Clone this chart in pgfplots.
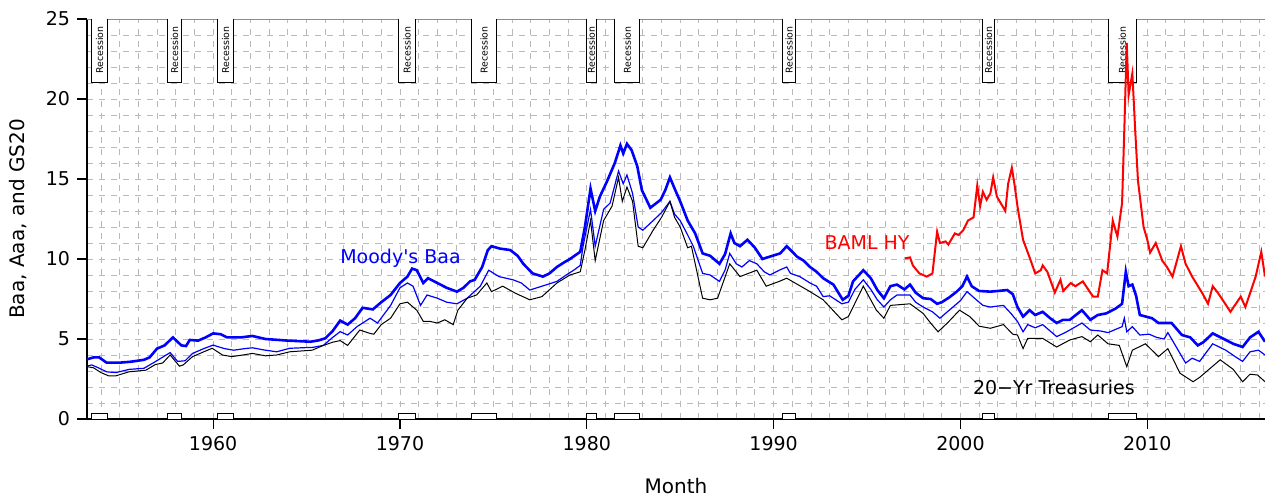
\documentclass[border=0pt]{standalone}
\usepackage{fontspec}
\setmainfont{DejaVu Sans}
\usepackage{pgfplots}
\pgfplotsset{compat=1.18}
\newcommand{\rec}[3]{%
  \addplot[draw=black, fill=white, line width=0.5pt] coordinates {(#1,25) (#1,21) (#2,21) (#2,25)};
  \addplot[draw=black, fill=white, line width=0.5pt] coordinates {(#1,0) (#1,0.36) (#2,0.36) (#2,0)};
  \node[rotate=90, font=\fontsize{4.7}{5}\selectfont, inner sep=0pt] at (axis cs:#3,23.06) {Recession};
}
\begin{document}
\begin{tikzpicture}
\begin{axis}[
  scale only axis, width=589pt, height=200pt,
  xmin=1953.25, xmax=2016.3, ymin=0, ymax=25,
  axis x line*=bottom, axis y line*=left,
  axis line style={line width=0.6pt, -},
  xtick={1960,1970,...,2010}, ytick={0,5,...,25},
  minor xtick={1954,...,2016}, minor ytick={1,...,24},
  grid=both,
  major grid style={black!27, dashed, line width=0.4pt},
  minor grid style={black!27, dashed, line width=0.4pt},
  tick align=outside, major tick length=5pt, minor tick length=0pt,
  tick style={black, line width=0.6pt},
  /pgf/number format/1000 sep={},
  /pgf/number format/assume math mode=true,
  tick label style={font=\fontsize{9.5}{11}\selectfont},
  label style={font=\fontsize{9.5}{11}\selectfont},
  xlabel={Month}, ylabel={Baa, Aaa, and GS20},
  every axis x label/.style={at={(rel axis cs:0.5,0)}, yshift=-33.5pt, anchor=center},
  every axis y label/.style={at={(rel axis cs:0,0.5)}, xshift=-34.5pt, rotate=90, anchor=center},
]
\draw[black!45, line width=0.4pt] (rel axis cs:0,1) -- (rel axis cs:1,1);
\coordinate (sw) at (rel axis cs:0,0);
\coordinate (ne) at (rel axis cs:1,1);

\rec{1953.50}{1954.33}{1953.92}
\rec{1957.58}{1958.29}{1957.94}
\rec{1960.25}{1961.08}{1960.67}
\rec{1969.92}{1970.83}{1970.38}
\rec{1973.83}{1975.17}{1974.50}
\rec{1980.00}{1980.50}{1980.25}
\rec{1981.50}{1982.83}{1982.17}
\rec{1990.50}{1991.17}{1990.83}
\rec{2001.17}{2001.83}{2001.50}
\rec{2007.92}{2009.42}{2008.67}

% BAML HY
\addplot[red, line width=1pt] coordinates {
(1997.04,10.04) (1997.3,10.1) (1997.45,9.6) (1997.8,9.1) (1998.2,8.9) (1998.5,9.1)
(1998.75,11.7) (1998.9,11.0) (1999.2,11.1) (1999.35,10.9) (1999.7,11.6) (1999.9,11.5)
(2000.15,11.8) (2000.4,12.4) (2000.7,12.6) (2000.9,14.6) (2001.05,13.3) (2001.2,14.2)
(2001.4,13.7) (2001.6,14.1) (2001.75,15.1) (2001.95,13.9) (2002.4,13.0) (2002.55,14.7)
(2002.75,15.7) (2002.9,14.6) (2003.05,13.3) (2003.35,11.2) (2003.7,10.1) (2004.0,9.1)
(2004.3,9.3) (2004.4,9.6) (2004.65,9.2) (2005.05,7.9) (2005.35,8.7) (2005.5,8.0)
(2005.9,8.5) (2006.15,8.3) (2006.55,8.6) (2006.95,7.9) (2007.1,7.65) (2007.35,7.65)
(2007.6,9.3) (2007.85,9.1) (2008.15,12.4) (2008.4,11.4) (2008.65,13.5) (2008.77,18.1)
(2008.9,23.5) (2009.0,20.25) (2009.2,21.6) (2009.35,18.1) (2009.5,14.9) (2009.8,12.0)
(2010.0,11.2) (2010.15,10.4) (2010.45,11.0) (2010.8,9.9) (2011.05,9.5) (2011.35,8.9)
(2011.8,10.8) (2012.05,9.7) (2012.4,8.9) (2012.95,7.85) (2013.25,7.2) (2013.5,8.3)
(2013.8,7.85) (2014.45,6.7) (2015.0,7.65) (2015.25,7.0) (2015.8,8.9) (2016.1,10.45)
(2016.3,8.9)
};

% Moody's Baa
\addplot[blue, line width=1.3pt] coordinates {
(1953.25,3.73) (1953.6,3.85) (1953.9,3.85) (1954.3,3.52) (1955.0,3.52) (1955.6,3.58)
(1956.3,3.7) (1956.6,3.85) (1957.0,4.4) (1957.4,4.6) (1957.85,5.1) (1958.3,4.6)
(1958.55,4.56) (1958.75,4.94) (1959.2,4.9) (1959.6,5.1) (1960.0,5.35) (1960.4,5.3)
(1960.75,5.1) (1961.5,5.1) (1962.1,5.19) (1962.8,5.0) (1963.4,4.95) (1964.0,4.9)
(1965.2,4.83) (1965.6,4.9) (1966.0,5.04) (1966.4,5.5) (1966.8,6.15) (1967.2,5.9)
(1967.6,6.3) (1968.0,6.95) (1968.55,6.85) (1969.0,7.3) (1969.5,7.75) (1970.0,8.5)
(1970.4,8.9) (1970.65,9.4) (1970.9,9.3) (1971.25,8.5) (1971.5,8.8) (1972.0,8.5)
(1972.5,8.2) (1973.05,7.96) (1973.4,8.2) (1973.75,8.6) (1974.0,8.7) (1974.4,9.5)
(1974.7,10.55) (1974.9,10.8) (1975.35,10.65) (1975.9,10.56) (1976.3,10.2) (1976.6,9.7)
(1977.1,9.1) (1977.65,8.9) (1978.0,9.1) (1978.4,9.5) (1978.8,9.8) (1979.1,10.0)
(1979.65,10.45) (1979.9,12.0) (1980.2,14.4) (1980.45,13.0) (1980.7,13.9) (1981.1,14.9)
(1981.5,16.0) (1981.8,17.1) (1981.95,16.6) (1982.15,17.2) (1982.4,16.8) (1982.7,15.8)
(1982.95,14.3) (1983.4,13.2) (1983.95,13.7) (1984.2,14.3) (1984.45,15.1) (1984.7,14.4)
(1985.0,13.6) (1985.4,12.4) (1985.8,11.6) (1986.2,10.35) (1986.6,10.2) (1987.1,9.7)
(1987.4,10.3) (1987.7,11.6) (1987.9,11.0) (1988.2,10.8) (1988.6,11.2) (1989.0,10.7)
(1989.4,10.0) (1989.8,10.15) (1990.35,10.35) (1990.7,10.8) (1991.25,10.15) (1991.6,9.9)
(1991.95,9.5) (1992.3,9.2) (1992.65,8.8) (1993.2,8.4) (1993.7,7.45) (1994.0,7.7)
(1994.25,8.6) (1994.8,9.3) (1995.2,8.8) (1995.55,8.06) (1995.9,7.55) (1996.25,8.3)
(1996.6,8.4) (1997.0,8.1) (1997.3,8.4) (1997.6,7.9) (1998.0,7.55) (1998.4,7.5)
(1998.75,7.2) (1999.0,7.3) (1999.4,7.6) (1999.8,7.96) (2000.1,8.3) (2000.35,8.9)
(2000.6,8.3) (2001.0,8.0) (2001.6,7.96) (2002.0,8.0) (2002.5,8.06) (2002.8,7.8)
(2003.05,7.0) (2003.35,6.4) (2003.7,6.8) (2004.0,6.5) (2004.4,6.7) (2004.8,6.3)
(2005.15,6.0) (2005.5,6.2) (2005.85,6.2) (2006.5,6.8) (2006.95,6.2) (2007.35,6.5)
(2007.8,6.6) (2008.3,6.9) (2008.65,7.2) (2008.85,9.2) (2009.0,8.3) (2009.2,8.4)
(2009.4,7.7) (2009.6,6.5) (2010.25,6.3) (2010.6,6.0) (2010.95,6.0) (2011.3,6.0)
(2011.85,5.25) (2012.3,5.1) (2012.7,4.6) (2013.0,4.8) (2013.5,5.35) (2014.2,4.94)
(2014.6,4.7) (2015.1,4.5) (2015.5,5.1) (2015.95,5.45) (2016.3,4.83)
};

% Moody's Aaa
\addplot[blue, line width=0.6pt] coordinates {
(1953.25,3.3) (1953.5,3.38) (1953.8,3.23) (1954.3,2.95) (1954.8,2.9) (1955.5,3.1)
(1956.3,3.17) (1956.9,3.58) (1957.7,4.15) (1958.1,3.6) (1958.5,3.64) (1958.9,4.1)
(1959.5,4.4) (1960.0,4.62) (1960.6,4.4) (1961.1,4.3) (1961.7,4.4) (1962.1,4.45)
(1962.8,4.3) (1963.4,4.2) (1964.1,4.42) (1965.35,4.48) (1965.9,4.6) (1966.4,5.1)
(1966.8,5.46) (1967.2,5.25) (1967.7,5.77) (1968.4,6.3) (1968.8,6.0) (1969.5,7.1)
(1970.0,8.2) (1970.4,8.5) (1970.7,8.3) (1971.1,7.1) (1971.45,7.75) (1972.0,7.55)
(1972.5,7.3) (1973.05,7.2) (1973.6,7.55) (1974.3,8.3) (1974.75,9.3) (1975.3,8.9)
(1976.05,8.7) (1976.5,8.5) (1976.95,8.06) (1977.6,8.3) (1978.4,8.6) (1978.9,9.0)
(1979.3,9.3) (1979.65,9.6) (1979.8,10.8) (1980.2,13.1) (1980.45,10.8) (1980.9,13.1)
(1981.25,13.5) (1981.7,15.5) (1981.95,14.7) (1982.15,15.25) (1982.45,14.1) (1982.75,12.0)
(1983.0,11.8) (1983.55,12.4) (1984.0,12.9) (1984.45,13.6) (1984.7,12.8) (1985.0,12.4)
(1985.4,11.5) (1985.7,10.8) (1986.2,9.1) (1986.6,9.0) (1987.1,8.6) (1987.4,9.3)
(1987.65,10.35) (1988.0,9.7) (1988.3,9.5) (1988.7,9.9) (1989.1,9.7) (1989.5,9.2)
(1989.8,9.0) (1990.3,9.3) (1990.7,9.5) (1990.9,9.1) (1991.4,8.9) (1991.95,8.5)
(1992.3,8.3) (1992.65,7.65) (1993.0,7.7) (1993.65,7.2) (1994.0,7.3) (1994.35,8.1)
(1994.8,8.7) (1995.2,8.1) (1995.55,7.45) (1995.9,7.0) (1996.25,7.45) (1996.6,7.75)
(1997.3,7.75) (1997.6,7.3) (1998.0,7.0) (1998.5,6.7) (1998.9,6.3) (1999.4,6.8)
(2000.0,7.4) (2000.35,7.96) (2000.8,7.5) (2001.2,7.1) (2001.6,7.0) (2002.3,7.1)
(2002.7,6.6) (2003.05,6.1) (2003.35,5.45) (2003.6,5.9) (2004.0,5.7) (2004.4,5.9)
(2004.8,5.5) (2005.15,5.15) (2005.6,5.4) (2005.85,5.56) (2006.5,6.0) (2006.95,5.56)
(2007.5,5.5) (2007.9,5.4) (2008.3,5.6) (2008.65,5.77) (2008.77,6.3) (2008.9,5.45)
(2009.2,5.77) (2009.6,5.25) (2010.1,5.3) (2010.5,5.1) (2010.9,5.0) (2011.1,5.4)
(2011.5,4.6) (2012.05,3.5) (2012.4,3.8) (2012.8,3.6) (2013.5,4.7) (2014.2,4.3)
(2014.7,3.9) (2015.1,3.6) (2015.5,4.2) (2015.95,4.3) (2016.3,4.0)
};

% 20-Yr Treasuries
\addplot[black, line width=0.5pt] coordinates {
(1953.25,3.27) (1953.6,3.2) (1954.0,2.9) (1954.4,2.7) (1954.8,2.7) (1955.5,2.95)
(1956.4,3.05) (1956.9,3.4) (1957.3,3.5) (1957.7,4.0) (1958.2,3.3) (1958.4,3.38)
(1958.9,3.9) (1959.5,4.2) (1959.95,4.42) (1960.5,4.0) (1961.0,3.9) (1961.6,4.0)
(1962.1,4.1) (1962.8,3.95) (1963.4,4.0) (1964.1,4.2) (1965.3,4.3) (1965.9,4.6)
(1966.4,4.8) (1966.8,4.9) (1967.2,4.6) (1967.85,5.56) (1968.4,5.35) (1968.6,5.3)
(1969.0,5.9) (1969.5,6.3) (1970.0,7.2) (1970.4,7.3) (1970.9,6.8) (1971.25,6.1)
(1971.6,6.1) (1972.0,6.0) (1972.4,6.2) (1972.85,5.9) (1973.1,6.8) (1973.6,7.55)
(1974.1,7.75) (1974.65,8.5) (1974.9,7.96) (1975.5,8.3) (1976.2,7.85) (1976.95,7.45)
(1977.6,7.65) (1978.4,8.5) (1979.1,9.0) (1979.65,9.2) (1979.9,10.56) (1980.2,12.4)
(1980.45,9.9) (1980.9,12.4) (1981.35,13.3) (1981.7,15.1) (1981.9,13.6) (1982.15,14.5)
(1982.45,13.6) (1982.75,10.8) (1983.0,10.7) (1983.55,11.8) (1984.0,12.6) (1984.45,13.6)
(1984.7,12.6) (1985.0,12.0) (1985.4,10.7) (1985.6,10.8) (1986.2,7.55) (1986.6,7.45)
(1987.0,7.55) (1987.65,9.7) (1988.2,8.9) (1989.1,9.3) (1989.6,8.3) (1990.3,8.6)
(1990.7,8.8) (1991.95,7.96) (1992.65,7.45) (1993.65,6.2) (1994.0,6.4) (1994.8,8.3)
(1995.5,6.8) (1995.9,6.3) (1996.25,7.1) (1997.3,7.2) (1998.0,6.6) (1998.4,6.0)
(1998.8,5.45) (1999.3,6.0) (1999.95,6.8) (2000.5,6.4) (2001.0,5.8) (2001.6,5.67)
(2002.3,5.9) (2002.8,5.3) (2003.05,5.25) (2003.35,4.4) (2003.6,5.04) (2004.4,5.04)
(2005.15,4.5) (2005.85,4.94) (2006.5,5.15) (2006.95,4.83) (2007.35,5.25) (2007.9,4.7)
(2008.5,4.6) (2008.9,3.27) (2009.2,4.3) (2009.9,4.7) (2010.6,3.9) (2011.1,4.4)
(2011.75,2.86) (2012.45,2.33) (2012.8,2.6) (2013.9,3.7) (2014.6,3.1) (2015.1,2.33)
(2015.5,2.8) (2015.9,2.75) (2016.3,2.33)
};

\node[blue, font=\fontsize{9.5}{11}\selectfont] at (axis cs:1970.03,10.05) {Moody\textquotesingle s Baa};
\node[red, font=\fontsize{9.5}{11}\selectfont] at (axis cs:1995.0,11.0) {BAML HY};
\node[black, font=\fontsize{9.5}{11}\selectfont] at (axis cs:2005.0,2.0) {20−Yr Treasuries};
\end{axis}
\pgfresetboundingbox
\path ([shift={(-43.5pt,-39pt)}]sw) rectangle ([shift={(0pt,9.5pt)}]ne);
\end{tikzpicture}
\end{document}
